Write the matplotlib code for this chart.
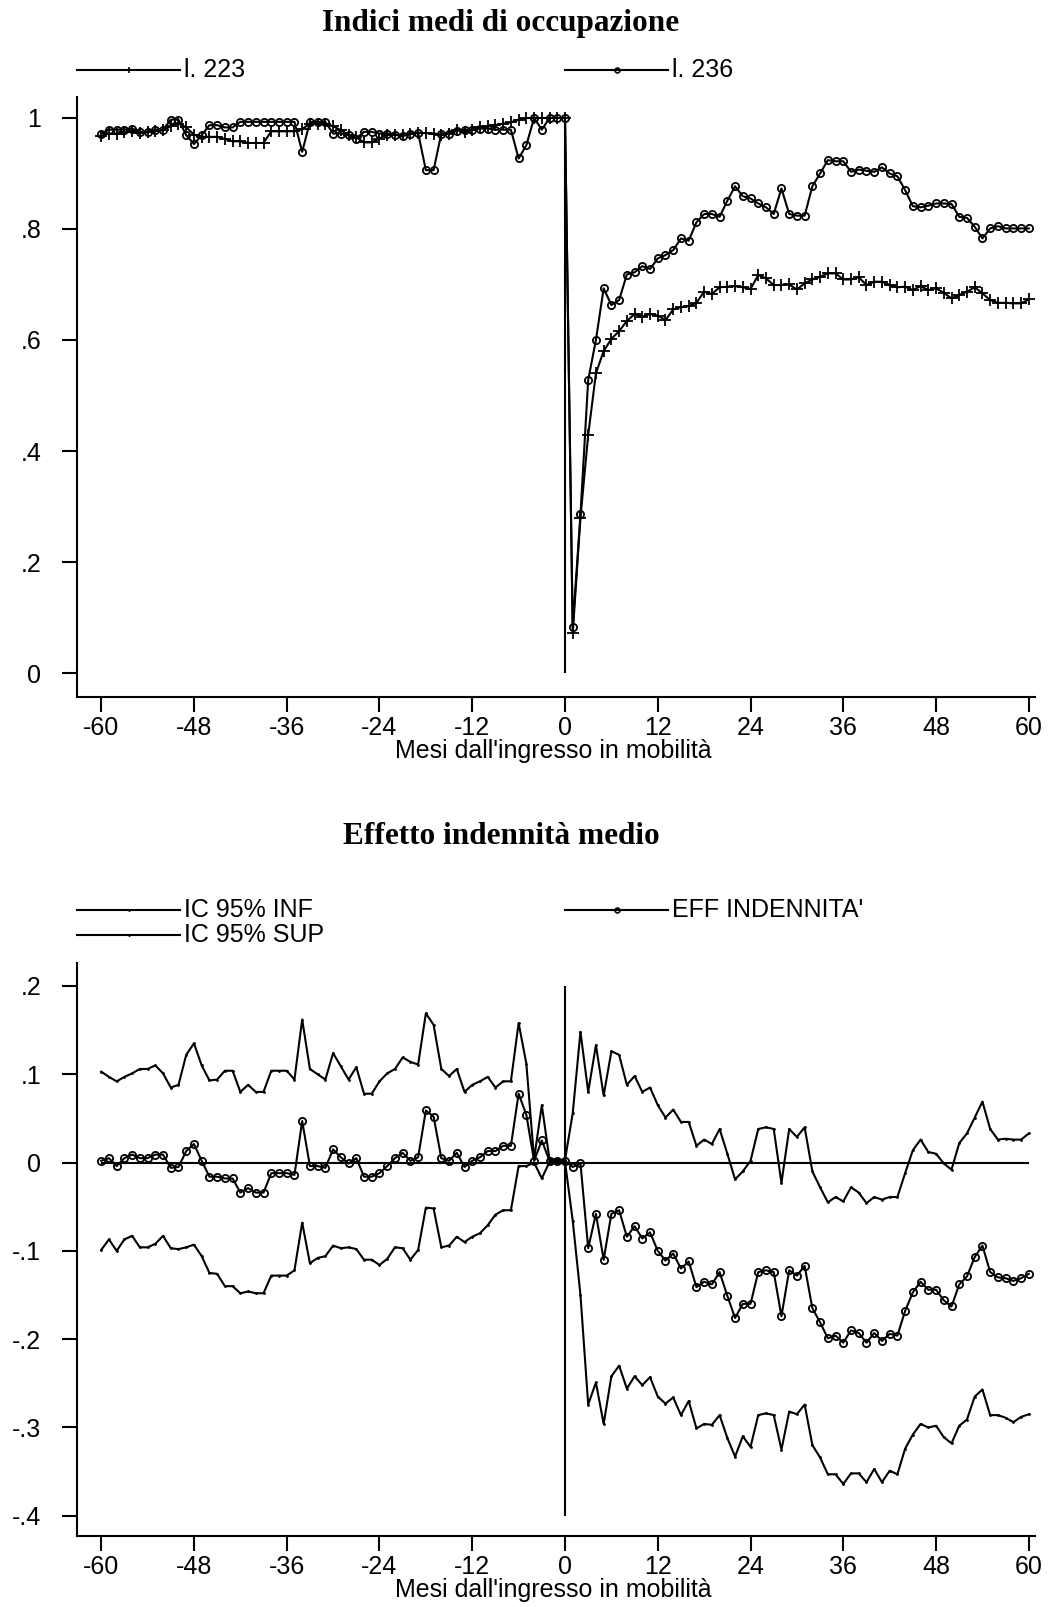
import matplotlib
matplotlib.use("Agg")
import matplotlib.pyplot as plt
import numpy as np

months = np.arange(-60, 61)

# average employment index, months -60 .. 60
occ_223 = [
    0.968, 0.972, 0.971, 0.974, 0.976, 0.973, 0.974, 0.977, 0.978, 0.985,
    0.990, 0.983, 0.970, 0.966, 0.966, 0.966, 0.962, 0.958, 0.958, 0.955,
    0.955, 0.955, 0.976, 0.976, 0.976, 0.976, 0.980, 0.990, 0.990, 0.990,
    0.985, 0.978, 0.970, 0.965, 0.956, 0.956, 0.963, 0.970, 0.970, 0.970,
    0.972, 0.973, 0.973, 0.972, 0.970, 0.972, 0.979, 0.975, 0.979, 0.983,
    0.985, 0.987, 0.990, 0.992, 0.997, 1.000, 1.000, 1.000, 1.000, 1.000,
    1.000, 0.072, 0.280, 0.429, 0.540, 0.580, 0.602, 0.616, 0.634, 0.647,
    0.642, 0.647, 0.644, 0.636, 0.655, 0.659, 0.661, 0.667, 0.687, 0.683,
    0.695, 0.696, 0.697, 0.695, 0.692, 0.717, 0.711, 0.699, 0.699, 0.700,
    0.691, 0.702, 0.709, 0.714, 0.720, 0.720, 0.709, 0.709, 0.713, 0.699,
    0.705, 0.705, 0.699, 0.695, 0.696, 0.690, 0.697, 0.690, 0.693, 0.685,
    0.675, 0.681, 0.687, 0.695, 0.684, 0.672, 0.667, 0.667, 0.666, 0.666,
    0.673,
]
occ_236 = [
    0.972, 0.979, 0.979, 0.979, 0.981, 0.975, 0.975, 0.979, 0.979, 0.997,
    0.997, 0.969, 0.953, 0.969, 0.987, 0.987, 0.983, 0.983, 0.993, 0.993,
    0.993, 0.993, 0.993, 0.993, 0.993, 0.993, 0.939, 0.993, 0.993, 0.993,
    0.972, 0.972, 0.969, 0.963, 0.975, 0.975, 0.972, 0.972, 0.970, 0.967,
    0.972, 0.973, 0.906, 0.906, 0.972, 0.972, 0.977, 0.979, 0.979, 0.981,
    0.981, 0.979, 0.979, 0.979, 0.927, 0.951, 1.000, 0.979, 1.000, 1.000,
    1.000, 0.083, 0.286, 0.528, 0.600, 0.693, 0.663, 0.672, 0.718, 0.722,
    0.733, 0.728, 0.747, 0.753, 0.762, 0.783, 0.779, 0.812, 0.827, 0.827,
    0.822, 0.851, 0.877, 0.859, 0.855, 0.846, 0.839, 0.827, 0.873, 0.827,
    0.824, 0.824, 0.877, 0.900, 0.924, 0.922, 0.922, 0.903, 0.907, 0.905,
    0.903, 0.911, 0.900, 0.895, 0.870, 0.841, 0.839, 0.842, 0.846, 0.846,
    0.845, 0.822, 0.820, 0.804, 0.783, 0.801, 0.805, 0.801, 0.801, 0.801,
    0.801,
]

# average benefit effect and its 95% band
eff = [
    0.002, 0.005, -0.004, 0.005, 0.009, 0.005, 0.005, 0.009, 0.009, -0.006,
    -0.005, 0.013, 0.021, 0.002, -0.016, -0.016, -0.018, -0.018, -0.034, -0.029,
    -0.034, -0.034, -0.012, -0.012, -0.012, -0.014, 0.047, -0.004, -0.004, -0.006,
    0.015, 0.006, -0.001, 0.005, -0.016, -0.016, -0.012, -0.004, 0.005, 0.011,
    0.002, 0.006, 0.059, 0.052, 0.005, 0.002, 0.011, -0.005, 0.002, 0.006,
    0.013, 0.013, 0.019, 0.019, 0.078, 0.054, 0.002, 0.025, 0.002, 0.002,
    0.002, -0.005, -0.001, -0.097, -0.058, -0.110, -0.058, -0.054, -0.084, -0.072,
    -0.086, -0.079, -0.100, -0.111, -0.103, -0.120, -0.112, -0.141, -0.135, -0.138,
    -0.124, -0.151, -0.176, -0.160, -0.160, -0.124, -0.122, -0.124, -0.174, -0.122,
    -0.128, -0.117, -0.165, -0.181, -0.199, -0.196, -0.204, -0.190, -0.193, -0.204,
    -0.193, -0.202, -0.194, -0.196, -0.168, -0.147, -0.135, -0.144, -0.144, -0.156,
    -0.163, -0.138, -0.129, -0.107, -0.094, -0.124, -0.130, -0.131, -0.134, -0.131,
    -0.126,
]
ic_sup = [
    0.103, 0.097, 0.092, 0.097, 0.101, 0.106, 0.106, 0.110, 0.101, 0.085,
    0.088, 0.122, 0.135, 0.110, 0.093, 0.094, 0.104, 0.104, 0.080, 0.088,
    0.080, 0.080, 0.104, 0.104, 0.104, 0.094, 0.162, 0.106, 0.100, 0.094,
    0.124, 0.109, 0.094, 0.108, 0.078, 0.078, 0.092, 0.101, 0.106, 0.119,
    0.114, 0.111, 0.169, 0.156, 0.106, 0.098, 0.106, 0.080, 0.088, 0.092,
    0.097, 0.085, 0.092, 0.092, 0.158, 0.112, 0.004, 0.065, 0.003, 0.003,
    0.003, 0.056, 0.148, 0.080, 0.133, 0.076, 0.126, 0.122, 0.088, 0.098,
    0.080, 0.085, 0.065, 0.051, 0.060, 0.046, 0.046, 0.019, 0.026, 0.021,
    0.038, 0.010, -0.019, -0.010, 0.002, 0.038, 0.040, 0.038, -0.023, 0.038,
    0.029, 0.040, -0.010, -0.028, -0.045, -0.039, -0.044, -0.028, -0.034, -0.046,
    -0.039, -0.042, -0.039, -0.039, -0.012, 0.014, 0.026, 0.012, 0.010, -0.001,
    -0.008, 0.022, 0.033, 0.051, 0.069, 0.038, 0.026, 0.027, 0.026, 0.026,
    0.033,
]
ic_inf = [
    -0.099, -0.087, -0.100, -0.087, -0.083, -0.096, -0.096, -0.092, -0.083, -0.097,
    -0.098, -0.096, -0.093, -0.106, -0.125, -0.126, -0.140, -0.140, -0.148, -0.146,
    -0.148, -0.148, -0.128, -0.128, -0.128, -0.122, -0.068, -0.114, -0.108, -0.106,
    -0.094, -0.097, -0.096, -0.098, -0.110, -0.110, -0.116, -0.109, -0.096, -0.097,
    -0.110, -0.099, -0.051, -0.052, -0.096, -0.094, -0.084, -0.090, -0.084, -0.080,
    -0.071, -0.059, -0.054, -0.054, -0.004, -0.004, 0.000, -0.018, 0.001, 0.001,
    0.001, -0.066, -0.150, -0.274, -0.249, -0.296, -0.242, -0.230, -0.256, -0.242,
    -0.252, -0.243, -0.265, -0.273, -0.266, -0.286, -0.270, -0.301, -0.296, -0.297,
    -0.286, -0.312, -0.333, -0.310, -0.322, -0.286, -0.284, -0.286, -0.325, -0.282,
    -0.285, -0.274, -0.320, -0.334, -0.353, -0.353, -0.364, -0.352, -0.352, -0.362,
    -0.347, -0.362, -0.349, -0.353, -0.324, -0.308, -0.296, -0.300, -0.298, -0.311,
    -0.318, -0.298, -0.291, -0.265, -0.257, -0.286, -0.286, -0.289, -0.294, -0.288,
    -0.285,
]

xticks = list(range(-60, 61, 12))
top_yticks = [0, 0.2, 0.4, 0.6, 0.8, 1.0]
top_ylabels = ["0", ".2", ".4", ".6", ".8", "1"]
bot_yticks = [-0.4, -0.3, -0.2, -0.1, 0, 0.1, 0.2]
bot_ylabels = ["-.4", "-.3", "-.2", "-.1", "0", ".1", ".2"]

SANS = "Liberation Sans"
SERIF = "Liberation Serif"
FS = 18
TFS = 22.5
W, H = 1050, 1607
LW = 1.5

plt.rcParams["font.family"] = SANS

fig = plt.figure(figsize=(W / 100, H / 100), dpi=100)


def px_axes(left, top, right, bottom):
    # axes placed from pixel edges measured from the top-left corner
    return fig.add_axes([left / W, 1 - bottom / H, (right - left) / W, (bottom - top) / H])


def style_axes(ax, yticks, ylabels):
    for side in ("top", "right"):
        ax.spines[side].set_visible(False)
    for side in ("left", "bottom"):
        ax.spines[side].set_linewidth(LW)
    ax.set_xticks(xticks)
    ax.set_xticklabels([str(t) for t in xticks], fontsize=FS)
    ax.set_yticks(yticks)
    ax.set_yticklabels(ylabels, fontsize=FS)
    ax.tick_params(axis="both", length=10.8, width=LW, color="black")
    ax.tick_params(axis="y", pad=15)
    ax.tick_params(axis="x", pad=3)


def legend_key(x0, y, label, **style):
    # one legend row: 103 px key line with its marker in the middle, then text
    x1 = x0 + 103
    fig.add_artist(plt.Line2D([x0 / W, x1 / W], [1 - y / H, 1 - y / H],
                              color="black", lw=LW, transform=fig.transFigure))
    if style:
        fig.add_artist(plt.Line2D([(x0 + x1) / 2 / W], [1 - y / H], ls="",
                                  color="black", transform=fig.transFigure,
                                  **style))
    fig.text((x1 + 4) / W, 1 - y / H, label, fontsize=FS, va="center", ha="left")


# ---- top panel: employment indices
ax1 = px_axes(77, 97, 1035, 697)
ax1.set_xlim(-63.13, 60.8)
ax1.set_ylim(-0.0432, 1.0378)
ax1.vlines(0, 0, 1, color="black", lw=LW)
ax1.plot(months, occ_223, color="black", lw=LW, marker="+", ms=8.5, mew=1.3)
ax1.plot(months, occ_236, color="black", lw=LW, marker="o", ms=5.2, mew=1.3,
         mfc="none")
style_axes(ax1, top_yticks, top_ylabels)

fig.text(501 / W, 1 - 24 / H, "Indici medi di occupazione", family=SERIF,
         weight="bold", fontsize=TFS, ha="center", va="center")
legend_key(77, 70, "l. 223", marker="+", ms=5, mew=1.2)
legend_key(565, 70, "l. 236", marker="o", ms=3.5, mew=1.2, mfc="none")
fig.text(553 / W, 1 - 751 / H, "Mesi dall'ingresso in mobilità", fontsize=FS,
         ha="center", va="center")

# ---- bottom panel: benefit effect
ax2 = px_axes(77, 963, 1035, 1536)
ax2.set_xlim(-63.13, 60.8)
ax2.set_ylim(-0.4229, 0.226)
ax2.vlines(0, -0.4, 0.2, color="black", lw=LW)
ax2.hlines(0, -60, 60, color="black", lw=LW)
ax2.plot(months, ic_inf, color="black", lw=LW, marker=".", ms=2)
ax2.plot(months, ic_sup, color="black", lw=LW, marker=".", ms=2)
ax2.plot(months, eff, color="black", lw=LW, marker="o", ms=5.2, mew=1.3,
         mfc="none")
style_axes(ax2, bot_yticks, bot_ylabels)

fig.text(501 / W, 1 - 836 / H, "Effetto indennità medio", family=SERIF,
         weight="bold", fontsize=TFS, ha="center", va="center")
legend_key(77, 910, "IC 95% INF", marker=".", ms=2)
legend_key(77, 935, "IC 95% SUP", marker=".", ms=2)
legend_key(565, 910, "EFF INDENNITA'", marker="o", ms=3.5, mew=1.2, mfc="none")
fig.text(553 / W, 1 - 1590 / H, "Mesi dall'ingresso in mobilità", fontsize=FS,
         ha="center", va="center")

fig.savefig("out.png", dpi=100, facecolor="white")
